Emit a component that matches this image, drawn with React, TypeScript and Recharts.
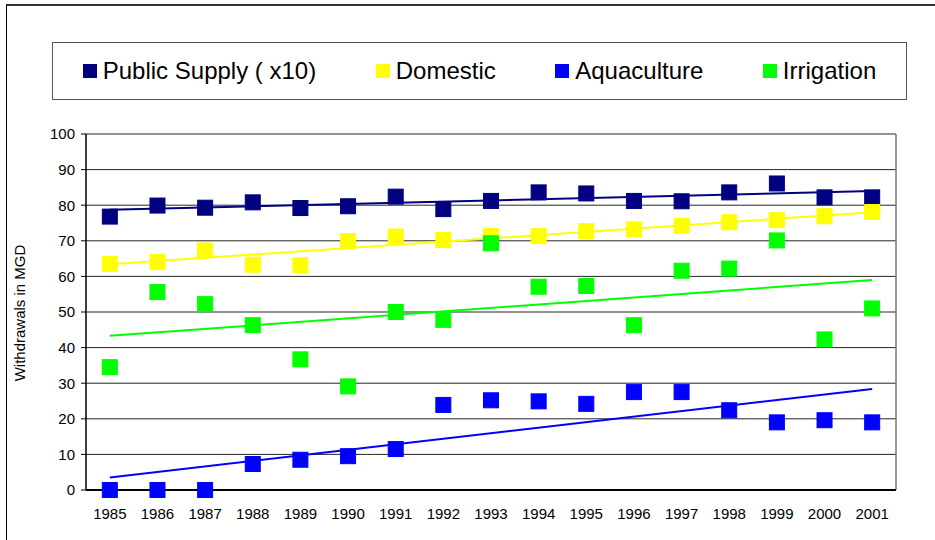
import { ComposedChart, Scatter, XAxis, YAxis, CartesianGrid, ReferenceLine } from 'recharts'

const years = [1985, 1986, 1987, 1988, 1989, 1990, 1991, 1992, 1993, 1994, 1995, 1996, 1997, 1998, 1999, 2000, 2001]
const publicSupply = [76.8, 79.9, 79.3, 80.8, 79.2, 79.7, 82.4, 78.9, 81.2, 83.6, 83.3, 81.2, 81.1, 83.6, 86.1, 82.2, 82.2]
const domestic = [63.5, 64.0, 67.3, 63.3, 63.1, 69.9, 71.2, 70.2, 71.3, 71.3, 72.7, 73.2, 74.2, 75.2, 75.8, 76.9, 78.1]
const aquaculture = [0, 0, 0, 7.3, 8.5, 9.5, 11.5, 23.9, 25.2, 24.9, 24.2, 27.5, 27.5, 22.4, 19.0, 19.6, 19.0]
const irrigation = [34.5, 55.6, 52.2, 46.3, 36.7, 29.1, 50.0, 47.8, 69.3, 57.1, 57.3, 46.3, 61.6, 62.2, 70.1, 42.3, 51.0]

// linear trendlines, read at the first and last year
const trendYears = [1985, 2001]
const publicTrend = [78.7, 84.0]
const domesticTrend = [63.4, 78.0]
const aquacultureTrend = [3.5, 28.4]
const irrigationTrend = [43.3, 59.0]

const yTicks = [0, 10, 20, 30, 40, 50, 60, 70, 80, 90, 100]
const yearBounds = [...years.map(y => y - 0.5), years[years.length - 1] + 0.5]

const series = [
  { name: 'Public Supply ( x10)', color: '#000080', values: publicSupply, trend: publicTrend },
  { name: 'Domestic', color: '#FFFF00', values: domestic, trend: domesticTrend },
  { name: 'Aquaculture', color: '#0000FF', values: aquaculture, trend: aquacultureTrend },
  { name: 'Irrigation', color: '#00FF00', values: irrigation, trend: irrigationTrend },
]

const FONT = '"Liberation Sans", Arial, sans-serif'

const square = (color: string) => (p: any) => (
  <rect x={p.cx - 7.5} y={p.cy - 7.5} width={15} height={15} fill={color} stroke={color} strokeWidth={1} />
)

export default function App() {
  const domain = [yearBounds[0], yearBounds[yearBounds.length - 1]]
  return (
    <div style={{ position: 'fixed', left: 0, top: 0, width: 935, height: 540, overflow: 'hidden', background: '#fff', fontFamily: FONT }}>
      <div style={{ position: 'absolute', left: 6, top: 4, width: 1200, height: 1200, borderTop: '2px solid #333', borderLeft: '1px solid #000' }} />
      <div style={{ position: 'absolute', left: 0, top: 0 }}>
        <ComposedChart width={935} height={540} margin={{ top: 134, right: 39, bottom: 48, left: 0 }} style={{ fontFamily: FONT }}>
          <CartesianGrid horizontal vertical={false} stroke="#000" strokeOpacity={0.85} />
          <XAxis xAxisId="lab" dataKey="x" type="number" domain={domain} ticks={years} interval={0}
            height={1} tickLine={false} tickSize={0} tickMargin={18}
            axisLine={{ stroke: '#000', strokeWidth: 2 }} tick={{ fontSize: 15, fill: '#000' }} />
          <XAxis xAxisId="tk" dataKey="x" type="number" domain={domain} ticks={yearBounds} interval={0}
            height={1} tick={false} axisLine={false} tickSize={5} tickLine={{ stroke: '#000' }} />
          <YAxis dataKey="y" type="number" domain={[0, 100]} ticks={yTicks} interval={0} width={86}
            tickSize={5} tickMargin={6} axisLine={{ stroke: '#000', strokeWidth: 1.5 }} tickLine={{ stroke: '#000' }}
            tick={{ fontSize: 15, fill: '#000' }}
            label={{
              content: () => (
                <text x={19} y={313} transform="rotate(-90 19 313)" textAnchor="middle" dominantBaseline="central"
                  fontSize={15} fill="#000" fontFamily={FONT}>Withdrawals in MGD</text>
              ),
            }} />
          <ReferenceLine xAxisId="lab" x={domain[1]} stroke="#777" strokeWidth={1.5} />
          {series.map(s => (
            <Scatter key={s.name + '-trend'} xAxisId="lab" name={s.name + ' trend'} legendType="none"
              data={trendYears.map((x, i) => ({ x, y: s.trend[i] }))}
              line={{ stroke: s.color, strokeWidth: 2 }} shape={() => <g />} isAnimationActive={false} />
          ))}
          {series.map(s => (
            <Scatter key={s.name} xAxisId="lab" name={s.name}
              data={years.map((x, i) => ({ x, y: s.values[i] }))}
              shape={square(s.color)} isAnimationActive={false} />
          ))}
        </ComposedChart>
      </div>
      <div style={{
        position: 'absolute', left: 52, top: 42, width: 853, height: 56, border: '1px solid #555',
        display: 'flex', justifyContent: 'space-around', alignItems: 'center', background: '#fff',
      }}>
        {series.map(s => (
          <div key={s.name} style={{ display: 'flex', alignItems: 'center' }}>
            <span style={{ display: 'inline-block', width: 14, height: 14, background: s.color, marginRight: 6 }} />
            <span style={{ fontSize: 24, color: '#000' }}>{s.name}</span>
          </div>
        ))}
      </div>
    </div>
  )
}
